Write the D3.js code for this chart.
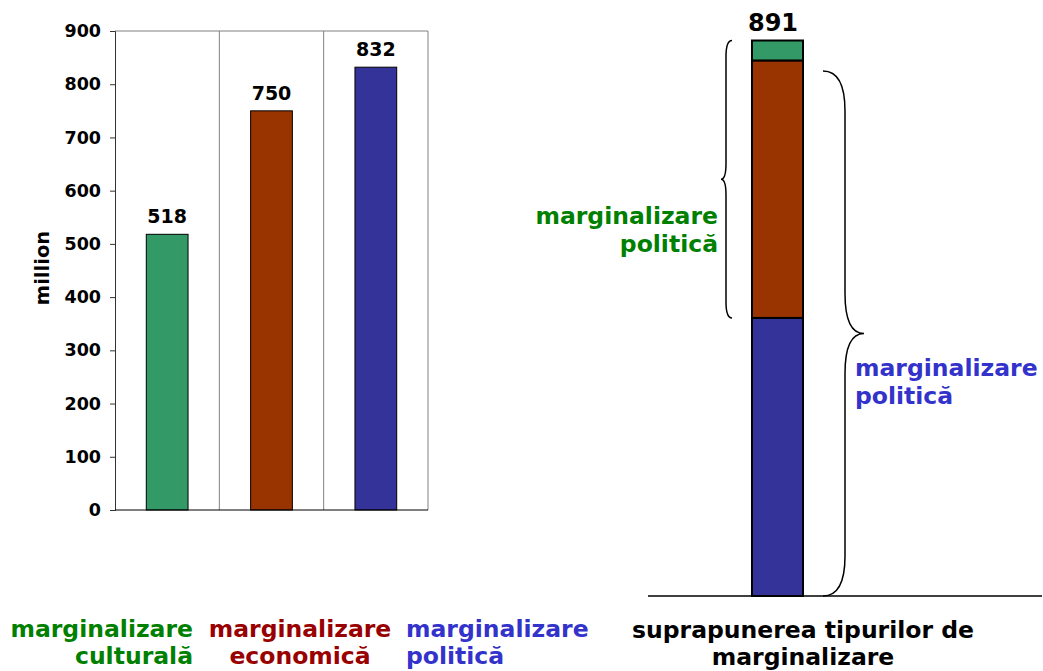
<!DOCTYPE html>
<html>
<head>
<meta charset="utf-8">
<script src="https://cdn.jsdelivr.net/npm/d3@7"></script>
<style>
  body { margin: 0; background: #fff; }
  svg text { font-family: "DejaVu Sans", Verdana, sans-serif; font-weight: bold; }
</style>
</head>
<body>
<svg id="graph"></svg>
<script>
var categories = ["culturală", "economică", "politică"]
var values = [518, 750, 832]
var barColors = ["#339966", "#993300", "#333399"]
var labelColors = ["#008000", "#990000", "#3333cc"]
var yTicks = [0, 100, 200, 300, 400, 500, 600, 700, 800, 900]

// stacked bar on the right, bottom to top
var stackNames = ["politică", "economică", "culturală"]
var stackValues = [446, 413, 32]
var stackColors = ["#333399", "#993300", "#339966"]
var stackTotal = 891

// brace extents, in the right chart's units
var braceLeft = [446, 891]
var braceRight = [0, 842]

var screen = {width: 1043, height: 671}
var labelSize = 23.5

var svg = d3.select("#graph")
    .attr("width", screen.width)
    .attr("height", screen.height)

// ---------- left chart ----------
var plot = {left: 115, right: 428, top: 31, bottom: 510}

var xScale = d3.scaleBand()
    .domain(categories)
    .range([plot.left, plot.right])

var yScale = d3.scaleLinear()
    .domain([0, 900])
    .range([plot.bottom, plot.top])

// plot frame and category dividers
svg.append("line")
    .attr("x1", plot.left).attr("x2", plot.right)
    .attr("y1", plot.top).attr("y2", plot.top)
    .attr("stroke", "#808080")
svg.append("line")
    .attr("x1", plot.right).attr("x2", plot.right)
    .attr("y1", plot.top).attr("y2", plot.bottom)
    .attr("stroke", "#808080")
svg.selectAll(".divider")
    .data(categories.slice(1))
    .enter()
    .append("line")
    .attr("class", "divider")
    .attr("x1", function(d) { return xScale(d) })
    .attr("x2", function(d) { return xScale(d) })
    .attr("y1", plot.top)
    .attr("y2", plot.bottom)
    .attr("stroke", "#808080")

var barW = xScale.bandwidth() * 0.4

svg.selectAll(".bar")
    .data(values)
    .enter()
    .append("rect")
    .attr("class", "bar")
    .attr("x", function(d, i) { return xScale(categories[i]) + (xScale.bandwidth() - barW) / 2 })
    .attr("y", function(d) { return yScale(d) })
    .attr("width", barW)
    .attr("height", function(d) { return yScale(0) - yScale(d) })
    .attr("fill", function(d, i) { return barColors[i] })
    .attr("stroke", "#000")
    .attr("stroke-width", 1)

svg.selectAll(".val")
    .data(values)
    .enter()
    .append("text")
    .attr("class", "val")
    .attr("x", function(d, i) { return xScale(categories[i]) + xScale.bandwidth() / 2 })
    .attr("y", function(d) { return yScale(d) - 11 })
    .attr("text-anchor", "middle")
    .attr("font-size", 19)
    .text(function(d) { return d })

var yAxis = svg.append("g")
    .attr("transform", "translate(" + plot.left + ",0)")
    .call(d3.axisLeft(yScale).tickValues(yTicks).tickSize(5).tickPadding(9))
yAxis.select(".domain").attr("stroke", "#333")
yAxis.selectAll(".tick line").attr("stroke", "#333")
yAxis.selectAll("text")
    .attr("font-size", 17.5)
    .attr("fill", "#000")
    .attr("font-family", "DejaVu Sans, Verdana, sans-serif")
    .attr("font-weight", "bold")

svg.append("line")
    .attr("x1", plot.left).attr("x2", plot.right)
    .attr("y1", plot.bottom).attr("y2", plot.bottom)
    .attr("stroke", "#000")

svg.append("text")
    .attr("transform", "translate(49,268) rotate(-90)")
    .attr("text-anchor", "middle")
    .attr("font-size", 19.5)
    .text("million")

// category labels under the left chart
var catLabelX = [193, 300, 406]
var catAnchor = ["end", "middle", "start"]
categories.forEach(function(c, i) {
    var t = svg.append("text")
        .attr("font-size", labelSize)
        .attr("fill", labelColors[i])
        .attr("text-anchor", catAnchor[i])
    t.append("tspan").attr("x", catLabelX[i]).attr("y", 637).text("marginalizare")
    t.append("tspan").attr("x", catLabelX[i]).attr("y", 664).text(c)
})

// ---------- right chart ----------
var sScale = d3.scaleLinear()
    .domain([0, stackTotal])
    .range([596, 40.5])

var stackX = 752, stackW = 51

svg.append("line")
    .attr("x1", 648).attr("x2", 1042)
    .attr("y1", sScale(0)).attr("y2", sScale(0))
    .attr("stroke", "#000")
    .attr("stroke-width", 1.5)

var cum = 0
var stackData = stackValues.map(function(v, i) {
    var d = {name: stackNames[i], y0: cum, y1: cum + v, color: stackColors[i]}
    cum += v
    return d
})

svg.selectAll(".seg")
    .data(stackData)
    .enter()
    .append("rect")
    .attr("class", "seg")
    .attr("x", stackX)
    .attr("y", function(d) { return sScale(d.y1) })
    .attr("width", stackW)
    .attr("height", function(d) { return sScale(d.y0) - sScale(d.y1) })
    .attr("fill", function(d) { return d.color })
    .attr("stroke", "#000")
    .attr("stroke-width", 2)

svg.append("text")
    .attr("x", 773)
    .attr("y", sScale(stackTotal) - 9.5)
    .attr("text-anchor", "middle")
    .attr("font-size", 24)
    .text(stackTotal)

// curly brace: ends at x=e, spine at x=s, tip at x=t
var bracePath = function(y0, y1, e, s, t, r) {
    var ym = (y0 + y1) / 2
    return "M" + e + "," + y0 +
        " Q" + s + "," + y0 + " " + s + "," + (y0 + r) +
        " L" + s + "," + (ym - r) +
        " Q" + s + "," + ym + " " + t + "," + ym +
        " Q" + s + "," + ym + " " + s + "," + (ym + r) +
        " L" + s + "," + (y1 - r) +
        " Q" + s + "," + y1 + " " + e + "," + y1
}

svg.append("path")
    .attr("d", bracePath(sScale(braceLeft[1]), sScale(braceLeft[0]), 732, 726, 721, 16))
    .attr("fill", "none")
    .attr("stroke", "#000")
    .attr("stroke-width", 1.5)

svg.append("path")
    .attr("d", bracePath(sScale(braceRight[1]), sScale(braceRight[0]), 823, 845, 864, 40))
    .attr("fill", "none")
    .attr("stroke", "#000")
    .attr("stroke-width", 1.5)

var gLabel = svg.append("text")
    .attr("font-size", labelSize)
    .attr("fill", labelColors[0])
    .attr("text-anchor", "end")
gLabel.append("tspan").attr("x", 718).attr("y", 224).text("marginalizare")
gLabel.append("tspan").attr("x", 718).attr("y", 252).text("politică")

var bLabel = svg.append("text")
    .attr("font-size", labelSize)
    .attr("fill", labelColors[2])
    .attr("text-anchor", "start")
bLabel.append("tspan").attr("x", 855).attr("y", 376).text("marginalizare")
bLabel.append("tspan").attr("x", 855).attr("y", 404).text("politică")

var title = svg.append("text")
    .attr("font-size", labelSize)
    .attr("text-anchor", "middle")
title.append("tspan").attr("x", 803).attr("y", 638).text("suprapunerea tipurilor de")
title.append("tspan").attr("x", 803).attr("y", 665).text("marginalizare")
</script>
</body>
</html>
